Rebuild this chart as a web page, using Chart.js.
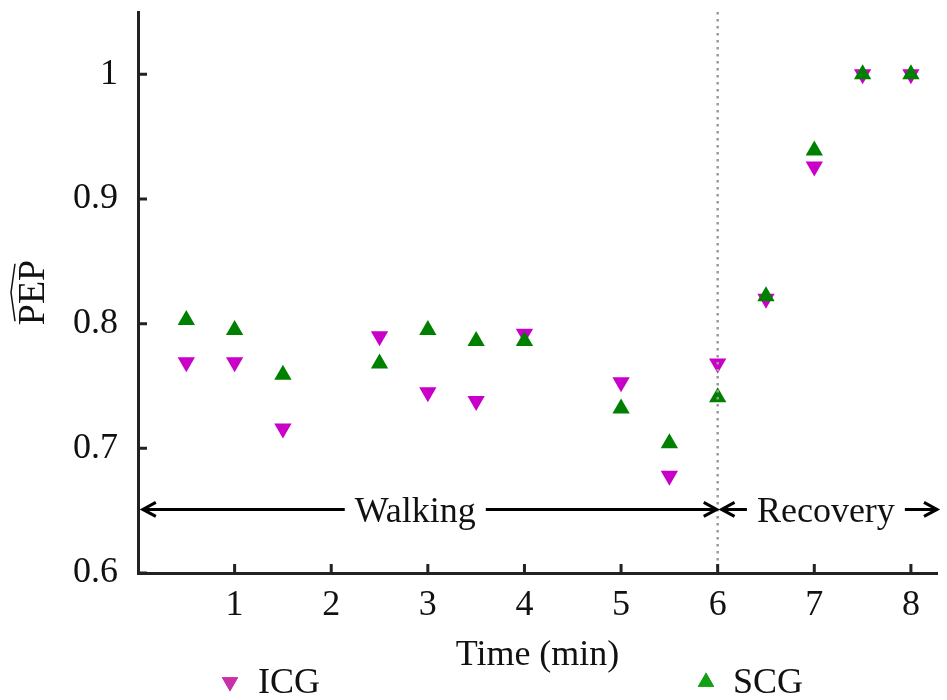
<!DOCTYPE html>
<html lang="en">
<head>
    <meta charset="UTF-8">
    <title>PEP during walking and recovery</title>
    <script src="https://cdn.jsdelivr.net/npm/chart.js"></script>
    <style>
        body { margin: 0; background: #fff; }
        #wrap { position: relative; width: 947px; height: 700px; }
    </style>
</head>
<body>
    <div id="wrap"><canvas id="pep-chart"></canvas></div>
    <script>
        // Values
        const times = [0.5, 1, 1.5, 2.5, 3, 3.5, 4, 5, 5.5, 6, 6.5, 7, 7.5, 8];
        const icg = [0.769, 0.769, 0.716, 0.790, 0.745, 0.738, 0.792, 0.753, 0.678, 0.768, 0.820, 0.926, 1.0, 1.0];
        const scg = [0.803, 0.795, 0.759, 0.768, 0.795, 0.786, 0.786, 0.732, 0.704, 0.741, 0.822, 0.939, 1.0, 1.0];
        const xTicks = [1, 2, 3, 4, 5, 6, 7, 8];
        const yTicks = [0.6, 0.7, 0.8, 0.9, 1];

        // Phase annotations (minutes)
        const phaseLabels = ['Walking', 'Recovery'];
        const phaseStart = [0.05, 6.04];
        const phaseEnd = [5.99, 8.27];
        const phaseLabelAt = [2.87, 7.12];
        const phaseLevel = 0.651;
        const splitTime = 6;

        const FONT = 'Liberation Serif, Times New Roman, serif';

        const toPts = ys => times.map((t, i) => ({ x: t, y: ys[i] }));

        function chevron(ctx, x, y, dir) {
            ctx.beginPath();
            ctx.moveTo(x - dir * 13, y - 7);
            ctx.lineTo(x, y);
            ctx.lineTo(x - dir * 13, y + 7);
            ctx.stroke();
        }

        const extras = {
            id: 'extras',
            afterDatasetsDraw(chart) {
                const { ctx, chartArea, scales: { x, y } } = chart;
                // dotted split line
                ctx.save();
                ctx.strokeStyle = '#9a9a9a';
                ctx.lineWidth = 2.5;
                ctx.setLineDash([2.5, 4.5]);
                const sx = x.getPixelForValue(splitTime);
                ctx.beginPath();
                ctx.moveTo(sx, chartArea.top);
                ctx.lineTo(sx, chartArea.bottom);
                ctx.stroke();
                ctx.restore();

                // phase arrows with labels
                ctx.save();
                ctx.strokeStyle = '#000';
                ctx.fillStyle = '#111';
                ctx.lineWidth = 3;
                ctx.font = '36px ' + FONT;
                ctx.textAlign = 'center';
                ctx.textBaseline = 'middle';
                const py = y.getPixelForValue(phaseLevel);
                phaseLabels.forEach((lab, i) => {
                    const a = x.getPixelForValue(phaseStart[i]);
                    const b = x.getPixelForValue(phaseEnd[i]);
                    const mid = x.getPixelForValue(phaseLabelAt[i]);
                    const half = ctx.measureText(lab).width / 2 + 10;
                    ctx.beginPath();
                    ctx.moveTo(a, py); ctx.lineTo(mid - half, py);
                    ctx.moveTo(mid + half, py); ctx.lineTo(b, py);
                    ctx.stroke();
                    chevron(ctx, a, py, -1);
                    chevron(ctx, b, py, 1);
                    ctx.fillText(lab, mid, py + 3);
                });
                ctx.restore();
            },
            afterDraw(chart) {
                const { ctx, chartArea, scales: { x, y } } = chart;
                ctx.save();
                // inward tick marks
                ctx.strokeStyle = '#222';
                ctx.lineWidth = 3;
                ctx.beginPath();
                xTicks.forEach(v => {
                    const px = x.getPixelForValue(v);
                    ctx.moveTo(px, chartArea.bottom);
                    ctx.lineTo(px, chartArea.bottom - 9);
                });
                yTicks.forEach(v => {
                    const py = y.getPixelForValue(v);
                    ctx.moveTo(chartArea.left, py);
                    ctx.lineTo(chartArea.left + 9, py);
                });
                ctx.stroke();

                // y title with hat
                ctx.fillStyle = '#111';
                ctx.font = '38px ' + FONT;
                ctx.translate(44, (chartArea.top + chartArea.bottom) / 2);
                ctx.rotate(-Math.PI / 2);
                ctx.textAlign = 'center';
                ctx.textBaseline = 'alphabetic';
                ctx.fillText('PEP', 0, 0);
                const w = ctx.measureText('PEP').width;
                ctx.lineWidth = 1.5;
                ctx.strokeStyle = '#111';
                ctx.beginPath();
                ctx.moveTo(-w / 2 + 4, -29);
                ctx.lineTo(0, -33);
                ctx.lineTo(w / 2 - 4, -29);
                ctx.stroke();
                ctx.restore();

                // legend
                ctx.save();
                ctx.font = '36px ' + FONT;
                ctx.textBaseline = 'middle';
                const ly = 682;
                const items = [
                    { label: 'ICG', color: '#c832a8', rot: 180, mx: 230, tx: 258 },
                    { label: 'SCG', color: '#12a012', rot: 0, mx: 706, tx: 733 }
                ];
                items.forEach(it => {
                    ctx.fillStyle = it.color;
                    Chart.helpers.drawPoint(ctx, { pointStyle: 'triangle', radius: 9.5, rotation: it.rot, borderWidth: 0 }, it.mx, ly);
                    ctx.fill();
                    ctx.fillStyle = '#111';
                    ctx.fillText(it.label, it.tx, ly + 2);
                });
                ctx.restore();
            }
        };

        new Chart(document.getElementById('pep-chart'), {
            type: 'scatter',
            data: {
                datasets: [
                    {
                        label: 'ICG',
                        data: toPts(icg),
                        pointStyle: 'triangle',
                        rotation: 180,
                        radius: 10,
                        backgroundColor: '#c800c8',
                        borderWidth: 0,
                        order: 1
                    },
                    {
                        label: 'SCG',
                        data: toPts(scg),
                        pointStyle: 'triangle',
                        radius: 10,
                        backgroundColor: '#008000',
                        borderWidth: 0,
                        order: 0
                    }
                ]
            },
            options: {
                responsive: true,
                maintainAspectRatio: false,
                animation: false,
                layout: { padding: { left: 0, right: 7, top: 12, bottom: 28 } },
                plugins: { legend: { display: false }, tooltip: { enabled: false } },
                scales: {
                    x: {
                        type: 'linear',
                        min: 0,
                        max: 8.27,
                        afterFit(s) { s.height = 99; },
                        afterBuildTicks(s) { s.ticks = xTicks.map(v => ({ value: v })); },
                        grid: { display: false, drawTicks: false },
                        border: { display: true, color: '#222', width: 3 },
                        ticks: {
                            padding: 11,
                            color: '#111',
                            font: { family: FONT, size: 36 },
                            maxRotation: 0
                        },
                        title: {
                            display: true,
                            text: 'Time (min)',
                            color: '#111',
                            font: { family: FONT, size: 36, lineHeight: 0.9 },
                            padding: 0
                        }
                    },
                    y: {
                        min: 0.6,
                        max: 1.05,
                        afterFit(s) {
                            s.width = 138;
                            s.paddingTop = 0;
                            s.paddingBottom = 0;
                        },
                        afterBuildTicks(s) { s.ticks = yTicks.map(v => ({ value: v })); },
                        grid: { display: false, drawTicks: false },
                        border: { display: true, color: '#222', width: 3 },
                        ticks: {
                            padding: 20,
                            color: '#111',
                            font: { family: FONT, size: 36 },
                            callback: v => String(Number(v.toFixed(2)))
                        }
                    }
                }
            },
            plugins: [extras]
        });
    </script>
</body>
</html>
